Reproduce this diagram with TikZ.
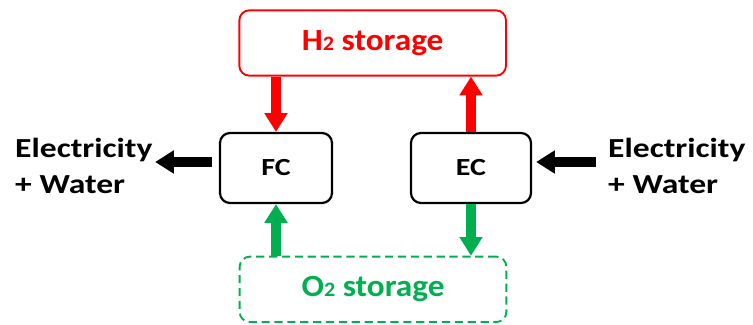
\documentclass[tikz,border=0pt]{standalone}
\usepackage{fontspec}
\setmainfont{Carlito}[FakeStretch=1.22]
\newfontfamily\tankfont{Carlito}[FakeStretch=1.08]
\usetikzlibrary{positioning,arrows.meta,calc}
\definecolor{hred}{HTML}{FF0000}
\definecolor{ogreen}{HTML}{00B050}
\newcommand{\chemsub}[1]{{\fontsize{17.5}{18}\selectfont#1}}
\tikzset{
  store/.style={rounded corners=0.3cm, line width=1.6pt, fill=white,
    minimum width=8cm, minimum height=1.96cm, align=center,
    font=\tankfont\fontsize{26.3}{30}\selectfont\bfseries},
  cell/.style={draw=black, line width=1.9pt, rounded corners=0.3cm,
    minimum height=2.1cm, align=center, font=\fontsize{21}{24}\selectfont\bfseries},
  elab/.style={align=left, inner sep=2pt, font=\fontsize{23.5}{30.6}\selectfont\bfseries},
  fat/.style={-{Triangle[width=0.66cm, length=0.56cm]}, line width=0.3cm},
}
\begin{document}
\begin{tikzpicture}
    \useasboundingbox (0,0) rectangle (22.59,9.72);
    % storage tanks
    \node[store, draw=hred, text=hred] (h2) at (11.18,8.43) {H\chemsub{2} storage};
    \node[store, draw=ogreen, text=ogreen, dashed, dash pattern=on 7pt off 4pt] (o2) at (11.19,1.04) {O\chemsub{2} storage};
    % fuel cell and electrolyser
    \node[cell, minimum width=3.36cm] (fc) at (8.28,4.68) {FC};
    \node[cell, minimum width=3.6cm] (ec) at (14.13,4.68) {EC};
    % outer labels (base = last line)
    \node[elab, anchor=base west] (outL) at (0.38,3.93) {Electricity\\+ Water};
    \node[elab, anchor=base west] (inR) at (18.17,3.93) {Electricity\\+ Water};
    % gas flows
    \draw[fat, hred] (h2.south -| fc) -- (fc.north);
    \draw[fat, hred] (ec.north) -- (h2.south -| ec);
    \draw[fat, ogreen] (o2.north -| fc) -- (fc.south);
    \draw[fat, ogreen] (ec.south) -- (o2.north -| ec);
    % electricity and water
    \draw[fat, black] ([shift={(-0.2,0.18)}]fc.west) -- ([yshift=0.18cm]fc.west -| outL.east);
    \draw[fat, black] ([shift={(-0.3,0.18)}]ec.east -| inR.west) -- ([shift={(0.12,0.18)}]ec.east);
\end{tikzpicture}
\end{document}
